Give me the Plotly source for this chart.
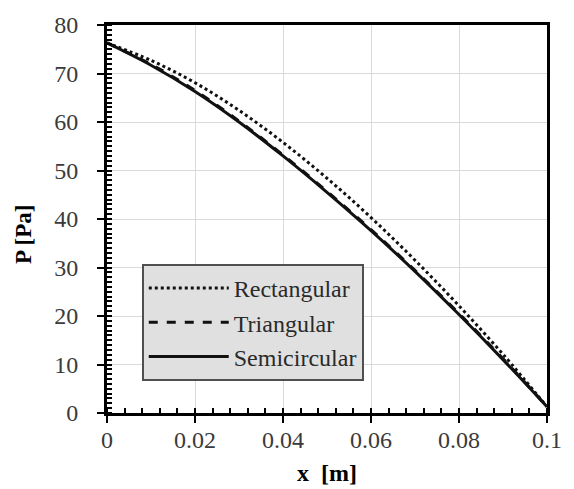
import plotly.graph_objects as go

# Pressure distribution along the channel for three cross-section shapes
x_m = [0.0, 0.01, 0.02, 0.03, 0.04, 0.05, 0.06, 0.07, 0.08, 0.09, 0.1]
p_rectangular = [76.3, 72.7, 68.1, 62.4, 55.8, 48.4, 40.3, 31.5, 22.1, 12.1, 1.3]
p_triangular = [76.3, 71.9, 66.5, 60.2, 53.2, 45.7, 37.8, 29.4, 20.5, 11.2, 1.3]
p_semicircular = [76.3, 71.7, 66.3, 60.0, 53.0, 45.5, 37.6, 29.2, 20.3, 11.0, 1.3]

x_ticks = [0, 0.02, 0.04, 0.06, 0.08, 0.1]
x_tick_text = ["0", "0.02", "0.04", "0.06", "0.08", "0.1"]
y_ticks = [0, 10, 20, 30, 40, 50, 60, 70, 80]

serif = "Liberation Serif"
tick_font = dict(family=serif, size=24, color="#3a3a3a")

fig = go.Figure()
fig.add_trace(go.Scatter(x=x_m, y=p_rectangular, name="Rectangular", mode="lines",
                         line=dict(color="#111111", width=3, dash="dot", shape="spline")))
fig.add_trace(go.Scatter(x=x_m, y=p_triangular, name="Triangular", mode="lines",
                         line=dict(color="#111111", width=3, dash="dash", shape="spline")))
fig.add_trace(go.Scatter(x=x_m, y=p_semicircular, name="Semicircular", mode="lines",
                         line=dict(color="#111111", width=3, dash="solid", shape="spline")))

axis_common = dict(showline=True, linecolor="black", linewidth=3, mirror=True,
                   showgrid=True, gridcolor="#d9d9d9", gridwidth=1, zeroline=False,
                   ticks="outside", ticklen=7, tickwidth=2, tickcolor="black",
                   tickfont=tick_font)

fig.update_layout(
    width=574, height=489,
    margin=dict(l=107, r=25, t=20, b=76),
    paper_bgcolor="white", plot_bgcolor="white",
    showlegend=True,
    legend=dict(x=0.079, y=0.384, xanchor="left", yanchor="top",
                bgcolor="#e0e0e0", bordercolor="#505050", borderwidth=2,
                font=dict(family=serif, size=24, color="#2a2a2a"),
                itemwidth=80, tracegroupgap=0),
    xaxis=dict(range=[0, 0.1], tickvals=x_ticks, ticktext=x_tick_text,
               ticklabelstandoff=-4,
               minor=dict(dtick=0.004, ticks="inside", ticklen=5, tickwidth=2,
                          tickcolor="black", showgrid=False),
               **axis_common),
    yaxis=dict(range=[0, 80], tickvals=y_ticks, ticklabelstandoff=14,
               minor=dict(dtick=1, ticks="inside", ticklen=5, tickwidth=2,
                          tickcolor="black", showgrid=False),
               **axis_common),
    # inner halves of the major ticks
    xaxis2=dict(overlaying="x", range=[0, 0.1], tickvals=x_ticks, showticklabels=False,
                ticks="inside", ticklen=5, tickwidth=2, tickcolor="black",
                showgrid=False, showline=False, zeroline=False, side="bottom"),
    yaxis2=dict(overlaying="y", range=[0, 80], tickvals=y_ticks, showticklabels=False,
                ticks="inside", ticklen=5, tickwidth=2, tickcolor="black",
                showgrid=False, showline=False, zeroline=False, side="left"),
    annotations=[
        dict(text="<b>P [Pa]</b>", xref="paper", yref="paper", x=-0.19, y=0.46,
             textangle=-90, showarrow=False, xanchor="center", yanchor="middle",
             font=dict(family=serif, size=23, color="black")),
        dict(text="<b>x  [m]</b>", xref="paper", yref="paper", x=0.5, y=-0.155,
             showarrow=False, xanchor="center", yanchor="middle",
             font=dict(family=serif, size=24, color="black")),
    ],
)

fig.write_html("out.html")
